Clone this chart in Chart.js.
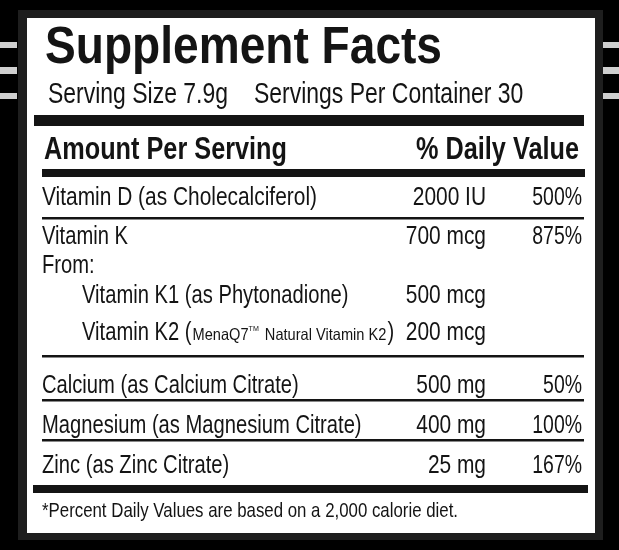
<!DOCTYPE html>
<html>
<head>
<meta charset="utf-8">
<script src="https://cdn.jsdelivr.net/npm/chart.js@4.4.1/dist/chart.umd.min.js"></script>
<style>
  html, body { margin: 0; padding: 0; background: #000; }
  canvas { display: block; }
</style>
</head>
<body>
<canvas id="facts" width="619" height="550"></canvas>
<script>
// 标签数据
const title = 'Supplement Facts';
const servingSize = 'Serving Size 7.9g';
const servingsPer = 'Servings Per Container 30';
const headerLeft = 'Amount Per Serving';
const headerRight = '% Daily Value';
const nutrients = [
    'Vitamin D (as Cholecalciferol)',
    'Vitamin K',
    'From:',
    'Vitamin K1 (as Phytonadione)',
    'Vitamin K2 (MenaQ7™ Natural Vitamin K2)',
    'Calcium (as Calcium Citrate)',
    'Magnesium (as Magnesium Citrate)',
    'Zinc (as Zinc Citrate)'
];
const amounts = ['2000 IU', '700 mcg', '', '500 mcg', '200 mcg', '500 mg', '400 mg', '25 mg'];
const dailyValues = ['500%', '875%', '', '', '', '50%', '100%', '167%'];
const footnote = '*Percent Daily Values are based on a 2,000 calorie diet.';

// 版面位置 (坐标单位 = 像素)
const W = 619, H = 550;
const rowBaseline = [205, 244, 273, 303, 340, 393, 433, 473];
const rowIndent = [42, 42, 42, 82, 82, 42, 42, 42];
const ruleY = [218, 356, 400, 440];
const FONT = '"Liberation Sans", Arial, Helvetica, sans-serif';
const INK = '#141414';

const labelPlugin = {
    id: 'factsLabel',
    beforeDraw(chart) {
        const ctx = chart.ctx;
        const sx = chart.scales.x, sy = chart.scales.y;
        const px = v => sx.getPixelForValue(v);
        const py = v => sy.getPixelForValue(v);
        const rect = (x0, y0, x1, y1, color) => {
            ctx.fillStyle = color;
            ctx.fillRect(px(x0), py(y0), px(x1) - px(x0), py(y1) - py(y0));
        };
        const measure = (s, font) => { ctx.font = font; return ctx.measureText(s).width; };
        // 压缩字体以模仿 Helvetica Condensed
        const text = (s, x, y, font, k, align) => {
            ctx.save();
            ctx.font = font;
            ctx.fillStyle = INK;
            ctx.textAlign = align || 'left';
            ctx.textBaseline = 'alphabetic';
            ctx.translate(px(x), py(y));
            ctx.scale(k, 1);
            ctx.fillText(s, 0, 0);
            ctx.restore();
            return measure(s, font) * k;
        };

        // 背景和边框
        rect(0, 0, W, H, '#000');
        rect(18, 10, 603, 540, '#1e1e1e');
        rect(27, 18, 595, 533, '#ffffff');
        [[42, 48], [67, 74], [93, 99]].forEach(s => {
            rect(0, s[0], 17, s[1], '#cfcfcf');
            rect(603, s[0], W, s[1], '#cfcfcf');
        });

        // 标题
        const fTitle = 'bold 51px ' + FONT;
        text(title, 45, 63, fTitle, 397 / measure(title, fTitle));

        const fServe = '30px ' + FONT;
        const kServe = 180 / measure(servingSize, fServe);
        text(servingSize, 48, 103, fServe, kServe);
        text(servingsPer, 254, 103, fServe, kServe);

        rect(34, 115, 584, 126, INK);

        const fHead = 'bold 31px ' + FONT;
        const kHead = 243 / measure(headerLeft, fHead);
        text(headerLeft, 44, 159, fHead, kHead);
        text(headerRight, 579, 159, fHead, kHead, 'right');

        rect(42, 169, 585, 177, INK);

        // 营养成分行
        const fRow = '25.5px ' + FONT;
        const fSmall = '16.5px ' + FONT;
        const fTiny = '8px ' + FONT;
        const kNum = 275 / measure(nutrients[0], fRow);
        const kRow = kNum * 0.965;
        nutrients.forEach((name, i) => {
            const y = rowBaseline[i];
            const m = name.match(/^(.*?\()(.*)™(.*)(\))$/);
            if (m) {
                // MenaQ7™ 部分用小字
                const kSmall = kNum * 1.08;
                let x = rowIndent[i];
                x += text(m[1], x, y, fRow, kRow);
                x += 1 + text(m[2], x + 1, y, fSmall, kSmall);
                x += text('TM', x, y - 9, fTiny, kSmall);
                x += 2 + text(m[3], x + 2, y, fSmall, kSmall);
                text(m[4], x + 1, y, fRow, kRow);
            } else {
                text(name, rowIndent[i], y, fRow, i === 0 ? kNum : kRow);
            }
            if (amounts[i]) text(amounts[i], 486, y, fRow, kNum, 'right');
            if (dailyValues[i]) text(dailyValues[i], 582, y, fRow, kNum * 0.93, 'right');
        });

        ruleY.forEach(r => rect(42, r - 1, 584, r + 1.5, INK));

        rect(33, 485, 588, 493, INK);

        const fFoot = '21px ' + FONT;
        text(footnote, 42, 517, fFoot, 416 / measure(footnote, fFoot));
    }
};

new Chart(document.getElementById('facts'), {
    type: 'scatter',
    data: { datasets: [] },
    options: {
        responsive: false,
        animation: false,
        events: [],
        layout: { padding: 0 },
        plugins: { legend: { display: false }, tooltip: { enabled: false } },
        scales: {
            x: { type: 'linear', min: 0, max: W, display: false },
            y: { type: 'linear', min: 0, max: H, reverse: true, display: false }
        }
    },
    plugins: [labelPlugin]
});
</script>
</body>
</html>
